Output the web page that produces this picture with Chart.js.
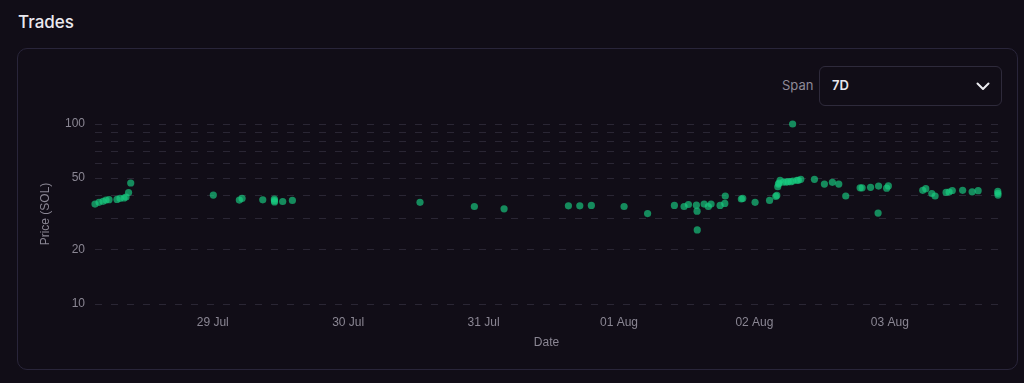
<!DOCTYPE html>
<html>
<head>
<meta charset="utf-8">
<script src="https://cdn.jsdelivr.net/npm/chart.js@4"></script>
<style>
  html, body { margin:0; padding:0; background:#110d17; width:1024px; height:383px; overflow:hidden; }
  .title { position:absolute; left:18px; top:12px; font-family:Inter, "Noto Sans", sans-serif; font-size:17px; font-weight:500; color:#ebe9ef; }
  .panel { position:absolute; left:17px; top:48px; width:1001px; height:322px; box-sizing:border-box; border:1px solid #29253a; border-radius:10px; }
  .span-label { position:absolute; left:782px; top:77px; font-family:Inter, "Noto Sans", sans-serif; font-size:13px; color:#8e8a97; }
  .select { position:absolute; left:819px; top:66px; width:183px; height:40px; box-sizing:border-box; border:1px solid #2e2a3b; border-radius:6px; }
  .select .val { position:absolute; left:12px; top:10px; font-family:Inter, "Noto Sans", sans-serif; font-size:13px; font-weight:600; color:#e8e6ec; }
  .select svg { position:absolute; left:156px; top:13px; }
  canvas { position:absolute; left:0; top:0; }
</style>
</head>
<body>
<div class="title">Trades</div>
<div class="panel"></div>
<div class="span-label">Span</div>
<div class="select"><span class="val">7D</span>
  <svg width="14" height="12" viewBox="0 0 14 12"><path d="M1.5 3.5 L7 9 L12.5 3.5" fill="none" stroke="#ececf0" stroke-width="2" stroke-linecap="round" stroke-linejoin="round"/></svg>
</div>
<canvas id="c" width="1024" height="383"></canvas>
<script>
// Trade times (UTC, month-day hour:minute) and prices in SOL
const tradeTimes = [
  "07-28 03:08","07-28 03:51","07-28 04:34","07-28 05:05","07-28 05:37","07-28 07:02","07-28 07:34","07-28 08:17","07-28 08:38","07-28 09:05","07-28 09:28",
  "07-29 00:06","07-29 04:43","07-29 05:12","07-29 08:52","07-29 10:55","07-29 10:56","07-29 10:57","07-29 12:24","07-29 14:07",
  "07-30 12:44","07-30 22:22",
  "07-31 03:38","07-31 15:02","07-31 17:03","07-31 19:06",
  "08-01 00:54","08-01 05:04","08-01 09:49","08-01 11:32","08-01 12:18","08-01 13:43","08-01 13:50","08-01 13:52","08-01 15:05","08-01 15:50","08-01 16:19","08-01 17:55","08-01 18:45","08-01 18:50","08-01 21:41","08-01 21:56",
  "08-02 00:07","08-02 02:41","08-02 03:47","08-02 03:58","08-02 04:08","08-02 04:15","08-02 04:22","08-02 04:33","08-02 05:05","08-02 05:37","08-02 05:58","08-02 06:27","08-02 06:46","08-02 06:48","08-02 07:31","08-02 07:47","08-02 08:13","08-02 10:38","08-02 12:24","08-02 13:49","08-02 14:57","08-02 16:11","08-02 18:44","08-02 19:05","08-02 20:35","08-02 21:55","08-02 22:00","08-02 23:26","08-02 23:44",
  "08-03 05:50","08-03 06:22","08-03 07:26","08-03 08:01","08-03 09:58","08-03 10:30","08-03 11:04","08-03 12:54","08-03 14:35","08-03 15:39","08-03 19:08","08-03 19:09","08-03 19:10"
];
const tradePrices = [
  35.9,36.7,37.2,37.8,38.0,38.1,38.6,38.8,39.3,41.6,47.0,
  40.3,37.8,38.6,37.9,38.3,37.5,36.9,37.1,37.6,
  36.7,34.8,
  33.8,35.1,35.1,35.3,
  34.8,31.8,35.3,34.8,35.7,35.4,32.8,25.8,35.9,34.8,35.9,35.3,36.2,39.8,38.3,38.6,
  36.7,37.6,39.6,40.1,44.8,46.4,47.0,48.7,47.6,47.6,47.8,47.8,100,48.2,48.7,48.7,49.3,49.3,46.4,47.4,46.4,39.8,44.2,44.2,44.5,32.0,45.2,44.0,45.3,
  42.8,43.7,41.1,39.8,41.7,41.9,42.7,42.8,42.0,42.6,42.2,41.2,40.3
];
const dayTicks = ["07-29","07-30","07-31","08-01","08-02","08-03"];
const monthNames = ["Jan","Feb","Mar","Apr","May","Jun","Jul","Aug","Sep","Oct","Nov","Dec"];
const yGridValues = [10, 20, 30, 40, 50, 60, 70, 80, 90, 100];
const yLabelValues = [10, 20, 50, 100];

function parseT(s) {
  const [md, hm] = s.split(" ");
  const [mo, d] = md.split("-").map(Number);
  let h = 0, mi = 0;
  if (hm) { [h, mi] = hm.split(":").map(Number); }
  return Date.UTC(2024, mo - 1, d, h, mi);
}
const points = tradeTimes.map((t, i) => ({ x: parseT(t), y: tradePrices[i] }));
const xs = points.map(p => p.x);
const xMin = Math.min(...xs), xMax = Math.max(...xs);
const tickVals = dayTicks.map(d => parseT(d));

const axisFont = { family: "'Liberation Sans', Arial, sans-serif", size: 12 };
const axisColor = "#8a8693";

new Chart(document.getElementById("c"), {
  type: "scatter",
  data: {
    datasets: [{
      data: points,
      backgroundColor: "rgba(24, 208, 130, 0.65)",
      borderWidth: 0,
      pointRadius: 3.6,
      pointHoverRadius: 3.6,
      clip: false
    }]
  },
  options: {
    responsive: false,
    animation: false,
    events: [],
    layout: { padding: { left: 38, right: 26, top: 124, bottom: 31 } },
    plugins: { legend: { display: false }, tooltip: { enabled: false } },
    scales: {
      x: {
        type: "linear",
        min: xMin, max: xMax,
        afterBuildTicks: s => { s.ticks = tickVals.map(v => ({ value: v })); },
        afterFit: s => { s.height = 48; },
        grid: { display: false, drawTicks: false },
        border: { display: false },
        ticks: {
          padding: 11,
          color: axisColor, font: axisFont, maxRotation: 0, autoSkip: false,
          callback: v => { const d = new Date(v); return String(d.getUTCDate()).padStart(2, "0") + " " + monthNames[d.getUTCMonth()]; }
        },
        title: { display: true, text: "Date", color: axisColor, font: axisFont, padding: { top: 4, bottom: 2 } }
      },
      y: {
        type: "logarithmic",
        min: 10, max: 100,
        afterBuildTicks: s => { s.ticks = yGridValues.map(v => ({ value: v })); },
        afterFit: s => { s.width = 57; },
        grid: { color: "#2a2634", lineWidth: 1, drawTicks: false },
        border: { display: false, dash: [7, 9] },
        ticks: {
          padding: 10,
          color: axisColor, font: axisFont, autoSkip: false,
          callback: v => yLabelValues.includes(Math.round(v)) ? String(Math.round(v)) : ""
        },
        title: { display: true, text: "Price (SOL)", color: axisColor, font: axisFont, padding: { top: 0, bottom: 4 } }
      }
    }
  }
});
</script>
</body>
</html>
